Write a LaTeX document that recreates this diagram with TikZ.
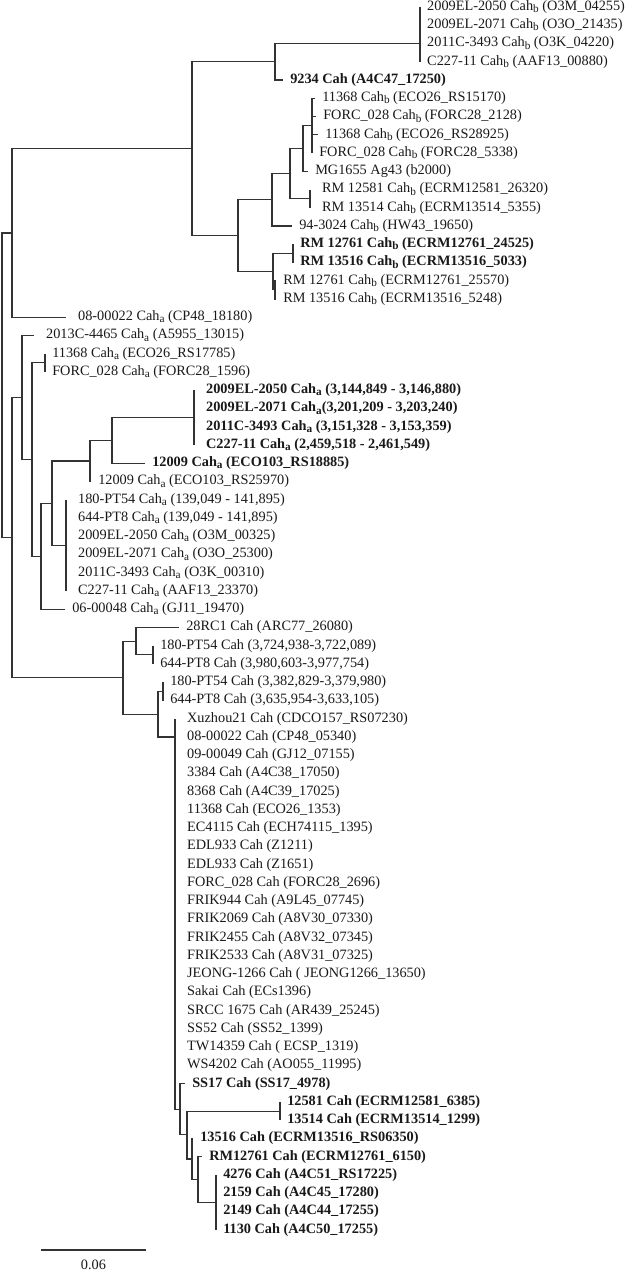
\documentclass[tikz,border=0pt]{standalone}
\usepackage{fontspec}
\setmainfont{Liberation Serif}
\newcommand{\lowsub}[1]{\raisebox{-0.35ex}{\fontsize{9.6}{10}\selectfont #1}}
\newcommand{\cahA}{Cah\lowsub{a}}
\newcommand{\cahB}{Cah\lowsub{b}}
\tikzset{
  branch/.style={line width=1pt, draw=black!80},
  leaf/.style={anchor=west, inner xsep=6pt, inner ysep=1pt,
               font=\fontsize{12.2}{14}\selectfont, text=black!90},
  farleaf/.style={leaf, inner xsep=10.2pt},
  hit/.style={font=\fontsize{12.2}{14}\selectfont\bfseries},
}

\begin{document}
\begin{tikzpicture}[x=0.03cm, y=-0.5475cm]
    \useasboundingbox (0,-0.3836) rectangle (625,69.425);
    % internal nodes
    \coordinate (root) at (2,20.7);
    \coordinate (top)  at (12,12.38);
    \coordinate (cahb) at (192,7.77);
    \coordinate (q)    at (275,3);
    \coordinate (r)    at (420,2);
    \coordinate (s)    at (238,12.53);
    \coordinate (t)    at (272,10.56);
    \coordinate (u)    at (290,9.125);
    \coordinate (v)    at (303,7.75);
    \coordinate (v2)   at (312,6.5);
    \coordinate (w)    at (310,10.5);
    \coordinate (x)    at (273,14.5);
    \coordinate (y)    at (293,13.5);
    \coordinate (z)    at (275,15.5);
    \coordinate (low)  at (12,29.07);
    \coordinate (caha) at (22,21.4);
    \coordinate (d)    at (32,24.8);
    \coordinate (e)    at (45,19.5);
    \coordinate (f)    at (41,30.09);
    \coordinate (g)    at (52,27.19);
    \coordinate (g1)   at (90,24.875);
    \coordinate (g1a)  at (112,23.75);
    \coordinate (r2)   at (194,22.5);
    \coordinate (g2)   at (66,29.5);
    \coordinate (cah)  at (123,36.75);
    \coordinate (i)    at (136,34.75);
    \coordinate (j)    at (153,35.5);
    \coordinate (k)    at (158,38.75);
    \coordinate (k1)   at (163,37.5);
    \coordinate (star) at (175,40);
    \coordinate (m)    at (180,60.4);
    \coordinate (n)    at (187,61.8);
    \coordinate (pp)   at (280,60.5);
    \coordinate (o)    at (192,63.125);
    \coordinate (o2)   at (198,64.25);
    \coordinate (o3)   at (216,65.5);

    % Cah b
    \node[leaf] (l0) at (420,0) {2009EL-2050 \cahB{} (O3M\_04255)};
    \node[leaf] (l1) at (420,1) {2009EL-2071 \cahB{} (O3O\_21435)};
    \node[leaf] (l2) at (420,2) {2011C-3493 \cahB{} (O3K\_04220)};
    \node[leaf] (l3) at (420,3) {C227-11 \cahB{} (AAF13\_00880)};
    \node[leaf, hit] (l4) at (283,4) {9234 Cah (A4C47\_17250)};
    \node[leaf] (l5) at (315,5) {11368 \cahB{} (ECO26\_RS15170)};
    \node[leaf] (l6) at (316,6) {FORC\_028 \cahB{} (FORC28\_2128)};
    \node[leaf] (l7) at (318,7) {11368 \cahB{} (ECO26\_RS28925)};
    \node[leaf] (l8) at (312,8) {FORC\_028 \cahB{} (FORC28\_5338)};
    \node[leaf] (l9) at (308,9) {MG1655 Ag43 (b2000)};
    \node[farleaf] (l10) at (310,10) {RM 12581 \cahB{} (ECRM12581\_26320)};
    \node[farleaf] (l11) at (310,11) {RM 13514 \cahB{} (ECRM13514\_5355)};
    \node[leaf] (l12) at (292,12) {94-3024 \cahB{} (HW43\_19650)};
    \node[leaf, hit] (l13) at (293,13) {RM 12761 \cahB{} (ECRM12761\_24525)};
    \node[leaf, hit] (l14) at (293,14) {RM 13516 \cahB{} (ECRM13516\_5033)};
    \node[leaf] (l15) at (276,15) {RM 12761 \cahB{} (ECRM12761\_25570)};
    \node[leaf] (l16) at (276,16) {RM 13516 \cahB{} (ECRM13516\_5248)};
    % Cah a
    \node[farleaf] (l17) at (66,17) {08-00022 \cahA{} (CP48\_18180)};
    \node[farleaf] (l18) at (34,18) {2013C-4465 \cahA{} (A5955\_13015)};
    \node[leaf] (l19) at (45,19) {11368 \cahA{} (ECO26\_RS17785)};
    \node[leaf] (l20) at (45,20) {FORC\_028 \cahA{} (FORC28\_1596)};
    \node[farleaf, hit] (l21) at (194,21) {2009EL-2050 \cahA{} (3,144,849 - 3,146,880)};
    \node[farleaf, hit] (l22) at (194,22) {2009EL-2071 \cahA(3,201,209 - 3,203,240)};
    \node[farleaf, hit] (l23) at (194,23) {2011C-3493 \cahA{} (3,151,328 - 3,153,359)};
    \node[farleaf, hit] (l24) at (194,24) {C227-11 \cahA{} (2,459,518 - 2,461,549)};
    \node[leaf, hit] (l25) at (145,25) {12009 \cahA{} (ECO103\_RS18885)};
    \node[leaf] (l26) at (91,26) {12009 \cahA{} (ECO103\_RS25970)};
    \node[farleaf] (l27) at (66,27) {180-PT54 \cahA{} (139,049 - 141,895)};
    \node[farleaf] (l28) at (66,28) {644-PT8 \cahA{} (139,049 - 141,895)};
    \node[farleaf] (l29) at (66,29) {2009EL-2050 \cahA{} (O3M\_00325)};
    \node[farleaf] (l30) at (66,30) {2009EL-2071 \cahA{} (O3O\_25300)};
    \node[farleaf] (l31) at (66,31) {2011C-3493 \cahA{} (O3K\_00310)};
    \node[farleaf] (l32) at (66,32) {C227-11 \cahA{} (AAF13\_23370)};
    \node[leaf] (l33) at (65,33) {06-00048 \cahA{} (GJ11\_19470)};
    % Cah
    \node[leaf] (l34) at (179,34) {28RC1 Cah (ARC77\_26080)};
    \node[leaf] (l35) at (153,35) {180-PT54 Cah (3,724,938-3,722,089)};
    \node[leaf] (l36) at (153,36) {644-PT8 Cah (3,980,603-3,977,754)};
    \node[leaf] (l37) at (163,37) {180-PT54 Cah (3,382,829-3,379,980)};
    \node[leaf] (l38) at (163,38) {644-PT8 Cah (3,635,954-3,633,105)};
    \node[farleaf] (l39) at (175,39) {Xuzhou21 Cah (CDCO157\_RS07230)};
    \node[farleaf] (l40) at (175,40) {08-00022 Cah (CP48\_05340)};
    \node[farleaf] (l41) at (175,41) {09-00049 Cah (GJ12\_07155)};
    \node[farleaf] (l42) at (175,42) {3384 Cah (A4C38\_17050)};
    \node[farleaf] (l43) at (175,43) {8368 Cah (A4C39\_17025)};
    \node[farleaf] (l44) at (175,44) {11368 Cah (ECO26\_1353)};
    \node[farleaf] (l45) at (175,45) {EC4115 Cah (ECH74115\_1395)};
    \node[farleaf] (l46) at (175,46) {EDL933 Cah (Z1211)};
    \node[farleaf] (l47) at (175,47) {EDL933 Cah (Z1651)};
    \node[farleaf] (l48) at (175,48) {FORC\_028 Cah (FORC28\_2696)};
    \node[farleaf] (l49) at (175,49) {FRIK944 Cah (A9L45\_07745)};
    \node[farleaf] (l50) at (175,50) {FRIK2069 Cah (A8V30\_07330)};
    \node[farleaf] (l51) at (175,51) {FRIK2455 Cah (A8V32\_07345)};
    \node[farleaf] (l52) at (175,52) {FRIK2533 Cah (A8V31\_07325)};
    \node[farleaf] (l53) at (175,53) {JEONG-1266 Cah ( JEONG1266\_13650)};
    \node[farleaf] (l54) at (175,54) {Sakai Cah (ECs1396)};
    \node[farleaf] (l55) at (175,55) {SRCC 1675 Cah (AR439\_25245)};
    \node[farleaf] (l56) at (175,56) {SS52 Cah (SS52\_1399)};
    \node[farleaf] (l57) at (175,57) {TW14359 Cah ( ECSP\_1319)};
    \node[farleaf] (l58) at (175,58) {WS4202 Cah (AO055\_11995)};
    \node[leaf, hit] (l59) at (185,59) {SS17 Cah (SS17\_4978)};
    \node[leaf, hit] (l60) at (280,60) {12581 Cah (ECRM12581\_6385)};
    \node[leaf, hit] (l61) at (280,61) {13514 Cah (ECRM13514\_1299)};
    \node[leaf, hit] (l62) at (193,62) {13516 Cah (ECRM13516\_RS06350)};
    \node[leaf, hit] (l63) at (202,63) {RM12761 Cah (ECRM12761\_6150)};
    \node[leaf, hit] (l64) at (216,64) {4276 Cah (A4C51\_RS17225)};
    \node[leaf, hit] (l65) at (216,65) {2159 Cah (A4C45\_17280)};
    \node[leaf, hit] (l66) at (216,66) {2149 Cah (A4C44\_17255)};
    \node[leaf, hit] (l67) at (216,67) {1130 Cah (A4C50\_17255)};

    % branches
    \draw[branch] (root) |- (top);
    \draw[branch] (root) |- (low);
    \draw[branch] (top) |- (cahb);
    \draw[branch] (top) |- (l17.west);
    \draw[branch] (cahb) |- (q);
    \draw[branch] (cahb) |- (s);
    \draw[branch] (q) |- (r);
    \draw[branch] (q) |- (l4.west);
    \foreach \l in {0,...,3} \draw[branch] (r) |- (l\l.west);
    \draw[branch] (s) |- (t);
    \draw[branch] (s) |- (x);
    \draw[branch] (t) |- (u);
    \draw[branch] (t) |- (l12.west);
    \draw[branch] (u) |- (v);
    \draw[branch] (u) |- (w);
    \draw[branch] (v) |- (v2);
    \draw[branch] (v) |- (l9.west);
    \foreach \l in {5,...,8} \draw[branch] (v2) |- (l\l.west);
    \draw[branch] (w) |- (l10.west);
    \draw[branch] (w) |- (l11.west);
    \draw[branch] (x) |- (y);
    \draw[branch] (x) |- (z);
    \draw[branch] (y) |- (l13.west);
    \draw[branch] (y) |- (l14.west);
    \draw[branch] (z) |- (l15.west);
    \draw[branch] (z) |- (l16.west);

    \draw[branch] (low) |- (caha);
    \draw[branch] (low) |- (cah);
    \draw[branch] (caha) |- (l18.west);
    \draw[branch] (caha) |- (d);
    \draw[branch] (d) |- (e);
    \draw[branch] (d) |- (f);
    \draw[branch] (e) |- (l19.west);
    \draw[branch] (e) |- (l20.west);
    \draw[branch] (f) |- (g);
    \draw[branch] (f) |- (l33.west);
    \draw[branch] (g) |- (g1);
    \draw[branch] (g) |- (g2);
    \draw[branch] (g1) |- (g1a);
    \draw[branch] (g1) |- (l26.west);
    \draw[branch] (g1a) |- (r2);
    \draw[branch] (g1a) |- (l25.west);
    \foreach \l in {21,...,24} \draw[branch] (r2) |- (l\l.west);
    \foreach \l in {27,...,32} \draw[branch] (g2) |- (l\l.west);

    \draw[branch] (cah) |- (i);
    \draw[branch] (cah) |- (k);
    \draw[branch] (i) |- (l34.west);
    \draw[branch] (i) |- (j);
    \draw[branch] (j) |- (l35.west);
    \draw[branch] (j) |- (l36.west);
    \draw[branch] (k) |- (k1);
    \draw[branch] (k) |- (star);
    \draw[branch] (k1) |- (l37.west);
    \draw[branch] (k1) |- (l38.west);
    \foreach \l in {39,...,58} \draw[branch] (star) |- (l\l.west);
    \draw[branch] (star) |- (m);
    \draw[branch] (m) |- (l59.west);
    \draw[branch] (m) |- (n);
    \draw[branch] (n) |- (pp);
    \draw[branch] (n) |- (o);
    \draw[branch] (pp) |- (l60.west);
    \draw[branch] (pp) |- (l61.west);
    \draw[branch] (o) |- (l62.west);
    \draw[branch] (o) |- (o2);
    \draw[branch] (o2) |- (l63.west);
    \draw[branch] (o2) |- (o3);
    \foreach \l in {64,...,67} \draw[branch] (o3) |- (l\l.west);

    % scale bar
    \coordinate (sb0) at (41,68.11);
    \coordinate (sb1) at (146,68.11);
    \draw[branch] (sb0) -- (sb1);
    \node[font=\fontsize{12.2}{14}\selectfont, text=black!90] (sbtext) at (93.5,68.93) {0.06};
  \end{tikzpicture}
\end{document}
